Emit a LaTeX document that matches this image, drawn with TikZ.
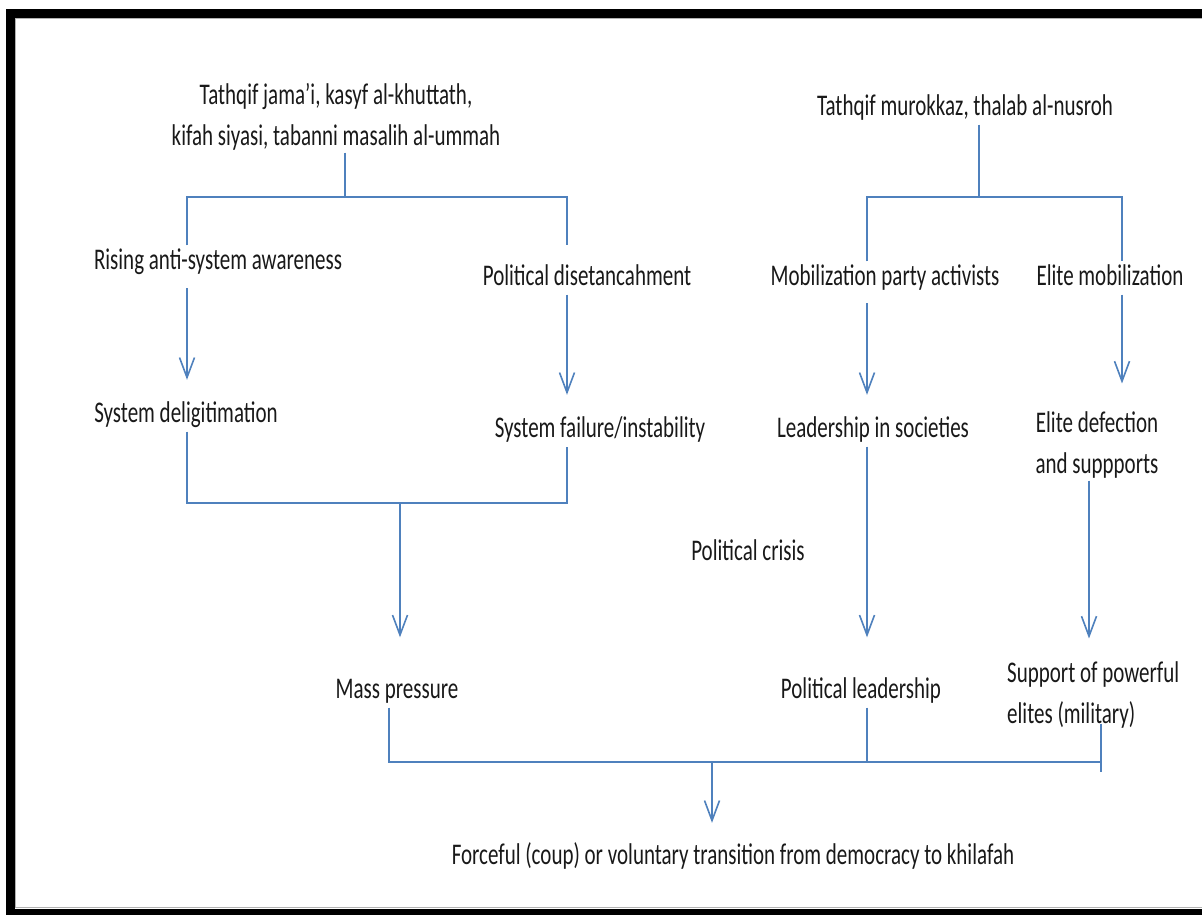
\documentclass[tikz,border=0pt]{standalone}
\usepackage{fontspec}
\setmainfont{Carlito}[FakeStretch=0.7]
\usetikzlibrary{arrows.meta}
\definecolor{wordblue}{HTML}{4F81BD}

\begin{document}
\begin{tikzpicture}
                \tikzset{x=1pt, y=-1pt}
                \tikzstyle{lbl}=[inner sep=2pt, text=black!90, font=\fontsize{30}{41}\selectfont, text height=22pt, text depth=7pt]
                \tikzstyle{lbltwo}=[inner sep=2pt, text=black!90, font=\fontsize{30}{41}\selectfont]
                \tikzstyle{link}=[draw=wordblue, line width=1.6pt]
                \tikzstyle{arr}=[link, -{Straight Barb[length=20pt, width=15pt, line width=1.6pt]}]

                % page and frame
                \useasboundingbox (0,0) rectangle (1202,914);
                \fill[white] (0,0) rectangle (1202,914);
                \draw[line width=9pt] (10.5,13) rectangle (1215,913);
                \draw[gray!60, line width=1pt] (15.5,18.5) rectangle (1210,907.5);

                % left branch
                \draw (336,117)     node[lbltwo, align=center]  (jamai)   {Tathqif jama’i, kasyf al-khuttath,\\kifah siyasi, tabanni masalih al-ummah};
                \draw (218,262)     node[lbl]   (rising)  {Rising anti-system awareness};
                \draw (587,278)     node[lbl]   (detach)  {Political disetancahment};
                \draw (186,415)     node[lbl]   (delegit) {System deligitimation};
                \draw (600,430)     node[lbl]   (failure) {System failure/instability};
                \draw (397,691)     node[lbl]   (mass)    {Mass pressure};

                % right branch
                \draw (965,108)     node[lbl]   (murokkaz) {Tathqif murokkaz, thalab al-nusroh};
                \draw (885,278)     node[lbl]   (mobil)   {Mobilization party activists};
                \draw (1110,278)    node[lbl]   (elitemob) {Elite mobilization};
                \draw (873,430)     node[lbl]   (society) {Leadership in societies};
                \draw (1097,445)    node[lbltwo, align=center] (defect) {Elite defection\\and suppports};
                \draw (748,553)     node[lbl]   (crisis)  {Political crisis};
                \draw (861,691)     node[lbl]   (polead)  {Political leadership};
                \draw (1005,695)    node[lbltwo, align=left, anchor=west] (powerful) {Support of powerful\\elites (military)};

                \draw (733,857)     node[lbl]   (khilafah) {Forceful (coup) or voluntary transition from democracy to khilafah};

                % junctions
                \coordinate (fork1)  at (345,197);
                \coordinate (fork1w) at (187,197);
                \coordinate (fork1e) at (567,197);
                \coordinate (fork2)  at (979,197);
                \coordinate (fork2w) at (867,197);
                \coordinate (fork2e) at (1122,197);
                \coordinate (join1)  at (400,503);
                \coordinate (join1w) at (187,503);
                \coordinate (join1e) at (567,503);
                \coordinate (join2)  at (712,762);
                \coordinate (join2w) at (389,762);
                \coordinate (join2m) at (867,762);
                \coordinate (join2e) at (1101,762);

                \draw [link]        (fork1 |- jamai.south) -- (fork1);
                \draw [link]        (fork1w |- rising.north) -- (fork1w) -- (fork1e) -- ([yshift=16.5pt]fork1e |- detach.north);
                \draw [arr, shorten <=9.5pt, shorten >=18.5pt]  (fork1w |- rising.south) -- (fork1w |- delegit.north);
                \draw [arr, shorten >=18.5pt]  (fork1e |- detach.south) -- (fork1e |- failure.north);
                \draw [link]        (join1w |- delegit.south) -- (join1w) -- (join1e) -- (join1e |- failure.south);
                \draw [arr, shorten >=37pt]  (join1) -- (join1 |- mass.north);

                \draw [link]        (fork2 |- murokkaz.south) -- (fork2);
                \draw [link]        (fork2w |- mobil.north) -- (fork2w) -- (fork2e) -- (fork2e |- elitemob.north);
                \draw [arr, shorten <=8.5pt, shorten >=18.5pt]  (fork2w |- mobil.south) -- (fork2w |- society.north);
                \draw [arr, shorten >=26pt]  (fork2e |- elitemob.south) -- (fork2e |- defect.north);
                \draw [arr, shorten >=37pt]  (join2m |- society.south) -- (join2m |- polead.north);
                \draw [arr, shorten >=21pt]  (1089,0 |- defect.south) -- (1089,0 |- powerful.north);

                \draw [link]        (join2w |- mass.south) -- (join2w) -- (join2e);
                \draw [link]        (join2m |- polead.south) -- (join2m);
                \draw [link]        ([yshift=7pt]join2e |- powerful.south) -- ([yshift=-10pt]join2e);
                \draw [arr, shorten >=17.5pt]  (join2) -- (join2 |- khilafah.north);
            \end{tikzpicture}
\end{document}
